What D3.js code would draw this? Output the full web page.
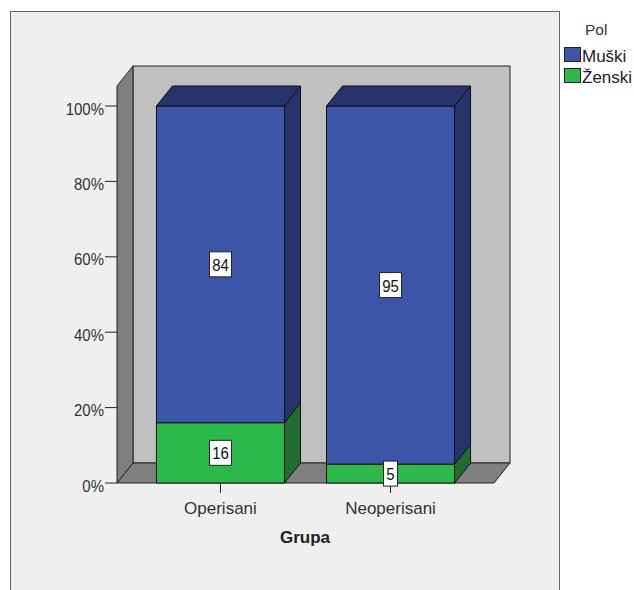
<!DOCTYPE html>
<html><head><meta charset="utf-8">
<script src="https://cdn.jsdelivr.net/npm/d3@7"></script>
<style>body{margin:0;background:#fff}svg{display:block;font-family:"Liberation Sans",Arial,sans-serif}</style>
</head><body>
<svg id="c" width="634" height="590"></svg>
<script>
const categories = ["Operisani", "Neoperisani"];
const series = ["Muški", "Ženski"];
const muski = [84, 95];
const zenski = [16, 5];
const yTicks = [0, 20, 40, 60, 80, 100];
const colors = {"Muški": ["#3d55a9", "#27346b"], "Ženski": ["#2db84b", "#1f6e30"]};

(function () {
const svg = d3.select("#c");
const dx = 16, dy = 20;
const pLeft = 117, pRight = 494, pBottom = 483, pTop = 106;

svg.append("rect").attr("x", 10.5).attr("y", 11.5).attr("width", 549).attr("height", 600)
  .attr("fill", "#efefef").attr("stroke", "#666").attr("stroke-width", 1);

const y = d3.scaleLinear().domain([0, 100]).range([pBottom, pTop]);
const x = d3.scaleBand().domain(categories).range([pLeft, pRight]).paddingInner(0.247).paddingOuter(0.232);

const wallTop = y(105.3);
svg.append("rect").attr("x", pLeft + dx).attr("y", wallTop - dy).attr("width", pRight - pLeft).attr("height", pBottom - wallTop)
  .attr("fill", "#c0c0c0").attr("stroke", "#222");
svg.append("polygon").attr("points", [[pLeft, pBottom], [pLeft, wallTop], [pLeft + dx, wallTop - dy], [pLeft + dx, pBottom - dy]].join(" "))
  .attr("fill", "#7f7f7f").attr("stroke", "#222");
svg.append("polygon").attr("points", [[pLeft, pBottom], [pRight, pBottom], [pRight + dx, pBottom - dy], [pLeft + dx, pBottom - dy]].join(" "))
  .attr("fill", "#7f7f7f").attr("stroke", "#222");

const ya = svg.append("g");
yTicks.forEach(t => {
  ya.append("line").attr("x1", pLeft - 12).attr("x2", pLeft).attr("y1", y(t)).attr("y2", y(t)).attr("stroke", "#222");
  ya.append("text").attr("text-anchor", "end")
    .attr("transform", `translate(${pLeft - 13},${y(t) + 8.5}) scale(1,1.12)`)
    .attr("font-size", 15).attr("fill", "#333").text(t + "%");
});

const rows = categories.map((c, i) => ({cat: c, "Muški": muski[i], "Ženski": zenski[i]}));
const stack = d3.stack().keys(["Ženski", "Muški"]);
const layers = stack(rows);

const bw = x.bandwidth();
categories.forEach((c, i) => {
  const g = svg.append("g");
  const x0 = x(c), x1 = x0 + bw;
  layers.forEach(layer => {
    const d = layer[i];
    const yb = y(d[0]), yt = y(d[1]);
    const col = colors[layer.key];
    g.append("rect").attr("x", x0).attr("y", yt).attr("width", bw).attr("height", yb - yt)
      .attr("fill", col[0]).attr("stroke", "#111");
    g.append("polygon").attr("points", [[x1, yb], [x1, yt], [x1 + dx, yt - dy], [x1 + dx, yb - dy]].join(" "))
      .attr("fill", col[1]).attr("stroke", "#111");
    if (d[1] === 100) {
      g.append("polygon").attr("points", [[x0, yt], [x1, yt], [x1 + dx, yt - dy], [x0 + dx, yt - dy]].join(" "))
        .attr("fill", col[1]).attr("stroke", "#111");
    }
  });
  svg.append("line").attr("x1", x0 + bw / 2).attr("x2", x0 + bw / 2).attr("y1", pBottom).attr("y2", pBottom + 10).attr("stroke", "#222");
  svg.append("text").attr("x", x0 + bw / 2).attr("y", 514).attr("text-anchor", "middle")
    .attr("font-size", 17).attr("fill", "#333").text(c);
  layers.forEach(layer => {
    const d = layer[i];
    const v = d[1] - d[0];
    const cy = (y(d[0]) + y(d[1])) / 2;
    const txt = String(v);
    const w = txt.length === 1 ? 14 : 22;
    svg.append("rect").attr("x", x0 + bw / 2 - w / 2).attr("y", cy - 12.5).attr("width", w).attr("height", 25)
      .attr("fill", "#fff").attr("stroke", "#222");
    svg.append("text").attr("text-anchor", "middle")
      .attr("transform", `translate(${x0 + bw / 2},${cy + 6.5}) scale(1,1.12)`)
      .attr("font-size", 15).attr("fill", "#111").text(txt);
  });
});

svg.append("text").attr("x", 305).attr("y", 543).attr("text-anchor", "middle")
  .attr("font-size", 17).attr("font-weight", "bold").attr("fill", "#222").text("Grupa");

svg.append("text").attr("x", 585).attr("y", 35).attr("font-size", 15.5).attr("fill", "#333").text("Pol");
series.forEach((s, i) => {
  svg.append("rect").attr("x", 564.5).attr("y", 47.5 + i * 21).attr("width", 16).attr("height", 14)
    .attr("fill", colors[s][0]).attr("stroke", "#222");
  svg.append("text").attr("x", 582).attr("y", 61.5 + i * 21).attr("font-size", 17).attr("fill", "#222").text(s);
});
})();
</script>
</body></html>
